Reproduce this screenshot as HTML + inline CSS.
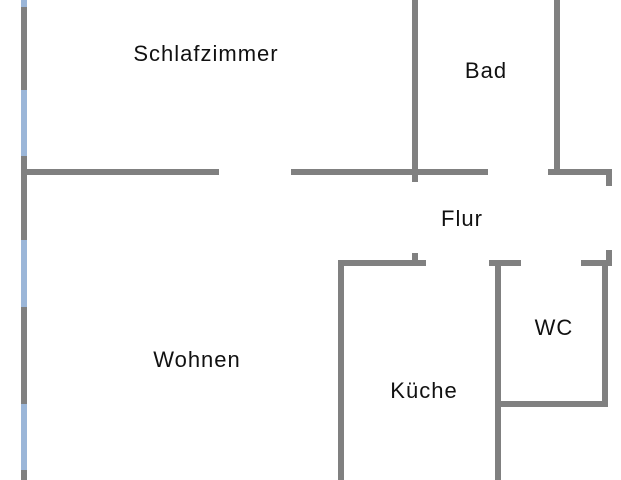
<!DOCTYPE html>
<html><head><style>
body{margin:0;background:#fff;}
svg{display:block;}
text{font-family:"Liberation Sans",sans-serif;font-size:22px;letter-spacing:1px;fill:#111;text-anchor:middle;}
</style></head><body>
<svg width="621" height="480" viewBox="0 0 621 480">
<g stroke="#9bb6d8" stroke-width="6">
<line x1="24" y1="0" x2="24" y2="480"/>
</g>
<g stroke="#808080" stroke-width="6">
<line x1="24" y1="7" x2="24" y2="90"/>
<line x1="24" y1="156" x2="24" y2="240"/>
<line x1="24" y1="307" x2="24" y2="404"/>
<line x1="24" y1="470" x2="24" y2="480"/>
</g>
<g stroke="#808080" stroke-width="6" fill="none">
<line x1="24" y1="172" x2="219" y2="172"/>
<line x1="291" y1="172" x2="488" y2="172"/>
<line x1="415" y1="0" x2="415" y2="182"/>
<line x1="557" y1="0" x2="557" y2="172"/>
<polyline points="548,172 609,172 609,186"/>
<polyline points="341,480 341,263 426,263"/>
<line x1="415" y1="253" x2="415" y2="263"/>
<line x1="489" y1="263" x2="521" y2="263"/>
<line x1="581" y1="263" x2="612" y2="263"/>
<line x1="609" y1="250" x2="609" y2="263"/>
<line x1="498" y1="265" x2="498" y2="480"/>
<polyline points="605,263 605,404 498,404"/>
</g>
<text x="206" y="61">Schlafzimmer</text>
<text x="486" y="78">Bad</text>
<text x="462" y="226">Flur</text>
<text x="554" y="335">WC</text>
<text x="197" y="367">Wohnen</text>
<text x="424" y="398">Küche</text>
</svg>
</body></html>
